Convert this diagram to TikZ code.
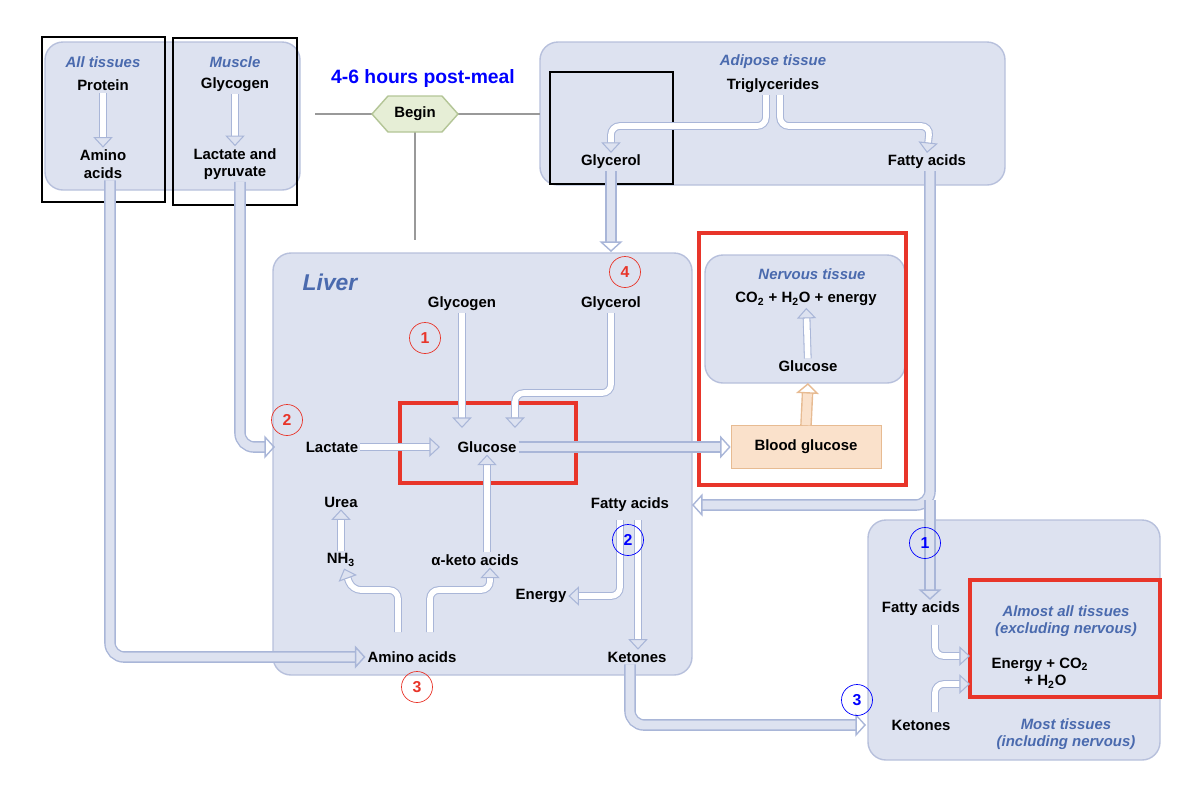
\documentclass[tikz,border=0pt]{standalone}
\usepackage{fontspec}
\setmainfont{Liberation Sans}
\usetikzlibrary{arrows.meta,positioning}
\definecolor{boxfill}{HTML}{DDE2F0}
\definecolor{boxline}{HTML}{B7C0DC}
\definecolor{flowc}{HTML}{A9B6D8}
\definecolor{tissue}{HTML}{4A6AAE}
\definecolor{hexfill}{HTML}{E6EED6}
\definecolor{hexline}{HTML}{B3C596}
\definecolor{bgfill}{HTML}{FAE1CB}
\definecolor{bgline}{HTML}{E7BB92}
\definecolor{mark}{HTML}{E8352A}
\tikzset{
  panel/.style={draw=boxline, fill=boxfill, rounded corners=3.6mm, line width=0.8pt},
  lbl/.style={font=\fontsize{8.5}{10}\selectfont\bfseries, align=center, inner sep=1pt},
  tis/.style={font=\fontsize{8.5}{10}\selectfont\bfseries\itshape, text=tissue, align=center, inner sep=1pt},
  fat/.style={draw=flowc, line width=0.6pt, double=white, double distance=3.2pt, rounded corners=5pt,
    -{Triangle[open,length=6pt,width=11pt,line width=0.6pt]}},
  wide/.style={draw=flowc, line width=0.8pt, double=boxfill, double distance=5pt, rounded corners=8pt,
    -{Triangle[open,length=6pt,width=13pt,line width=0.8pt]}},
  redno/.style={circle, draw=mark, text=mark, minimum size=0.62cm, inner sep=0pt, font=\fontsize{9}{10}\selectfont\bfseries},
  blueno/.style={circle, draw=blue, text=blue, minimum size=0.62cm, inner sep=0pt, font=\fontsize{9}{10}\selectfont\bfseries,
    append after command={(\tikzlastnode.south west) rectangle (\tikzlastnode.north east)}},
  hilite/.style={draw=mark, line width=2pt},
  frame/.style={draw=black, line width=0.7pt},
  rule/.style={draw=gray!80, line width=0.8pt}
}
\begin{document}
\begin{tikzpicture}[x=0.02cm, y=-0.02cm]
  \useasboundingbox (0,0) rectangle (1198,796);

  % panels
  \draw[panel] (45,42) rectangle (300,190);
  \draw[panel] (540,42) rectangle (1005,185);
  \draw[panel] (273,253) rectangle (692,675);
  \draw[panel] (705,255) rectangle (905,383);
  \draw[panel] (868,520) rectangle (1160,760);
  \draw[frame] (42,37) rectangle (165,202);
  \draw[frame] (173,38) rectangle (297,205);
  \draw[frame] (550,72) rectangle (673,184);

  % begin marker
  \draw[rule] (315,114) -- (540,114);
  \draw[rule] (415,114) -- (415,240);
  \draw[draw=hexline, fill=hexfill, line width=0.8pt]
    (372,114) -- (388,96) -- (442,96) -- (458,114) -- (442,132) -- (388,132) -- cycle;
  \node[lbl] (begin) at (415,114) {Begin};
  \node[font=\fontsize{11}{12}\selectfont\bfseries, text=blue] (time) at (423,78) {4-6 hours post-meal};

  % tissues
  \node[tis] (alltis) at (103,62) {All tissues};
  \node[lbl] (protein) at (103,85) {Protein};
  \node[lbl] (aminoA) at (103,164) {Amino\\acids};
  \node[tis] (muscle) at (235,62) {Muscle};
  \node[lbl] (glycoM) at (235,85) {Glycogen};
  \node[lbl] (lacpyr) at (235,164) {Lactate and\\pyruvate};
  \node[tis] (adipose) at (773,62) {Adipose tissue};
  \node[lbl] (trig) at (773,86) {Triglycerides};
  \node[lbl] (glyA) at (611,162) {Glycerol};
  \node[lbl] (fatA) at (927,162) {Fatty acids};

  % liver
  \node[font=\fontsize{13}{14}\selectfont\bfseries\itshape, text=tissue] (liver) at (330,282) {Liver};
  \node[lbl] (glyco) at (462,304) {Glycogen};
  \node[lbl] (glyL) at (611,304) {Glycerol};
  \node[lbl] (lac) at (332,447) {Lactate};
  \node[lbl] (gluc) at (487,447) {Glucose};
  \node[lbl] (urea) at (341,502) {Urea};
  \node[lbl] (nh3) at (341,560) {NH\textsubscript{3}};
  \node[lbl] (keto) at (475,560) {α-keto acids};
  \node[lbl] (amino) at (412,657) {Amino acids};
  \node[lbl] (fatL) at (630,505) {Fatty acids};
  \node[lbl] (energy) at (541,596) {Energy};
  \node[lbl] (ketL) at (637,657) {Ketones};
  \draw[hilite] (400,403) rectangle (576,483);

  % nervous tissue
  \node[tis] (nerv) at (812,274) {Nervous tissue};
  \node[lbl] (co2n) at (806,299) {CO\textsubscript{2} + H\textsubscript{2}O + energy};
  \node[lbl] (glucN) at (808,366) {Glucose};
  \node[lbl, draw=bgline, fill=bgfill, minimum width=3cm, minimum height=0.86cm] (blood) at (806,447) {Blood glucose};
  \draw[hilite] (699,233) rectangle (906,485);

  % other tissues
  \node[lbl] (fatT) at (921,609) {Fatty acids};
  \node[lbl] (ketT) at (921,725) {Ketones};
  \node[tis] (almost) at (1066,621) {Almost all tissues\\(excluding nervous)};
  \node[lbl, align=left] (co2t) at (1040,673) {Energy + CO\textsubscript{2}\\\hspace{2.2em}+ H\textsubscript{2}O};
  \node[tis] (most) at (1066,734) {Most tissues\\(including nervous)};
  \draw[hilite] (970,580) rectangle (1160,697);

  % flows inside panels
  \draw[fat] (protein) -- (aminoA);
  \draw[fat] (glycoM) -- (lacpyr);
  \draw[fat] ([xshift=-4pt]trig.south) |- (611,126) -- (glyA.north);
  \draw[fat] ([xshift=4pt]trig.south) |- (930,126) -- (fatA.north);
  \draw[fat] (glyco) -- (462,428);
  \draw[fat] (glyL.south) |- (515,393) -- (515,428);
  \draw[fat] (lac) -- (440,447);
  \draw[fat] (keto.north -| gluc) -- (gluc);
  \draw[fat] (nh3) -- (urea);
  \draw[fat] (398,632) |- (352,590) -- (nh3);
  \draw[fat] (430,632) |- (490,590) -- (keto.south -| 490,0);
  \draw[fat] (620,520) |- (energy.east);
  \draw[fat] (638,520) -- (ketL.north -| 638,0);
  \draw[fat] (glucN) -- (co2n);
  \draw[fat] (935,625) |- (970,656);
  \draw[fat] (935,712) |- (970,684);

  % flows between panels
  \draw[wide] (gluc.east) -- (blood.west);
  \draw[draw=bgline, line width=0.8pt, double=bgfill, double distance=5pt,
    -{Triangle[open,length=6pt,width=13pt,line width=0.8pt]}] (blood.north) -- (808,383);
  \draw[wide] (aminoA.south -| 110,0) |- (amino.west);
  \draw[wide] (lacpyr.south -| 240,0) |- (lac.west -| 275,0);
  \draw[wide] (glyA.south) -- (611,252);
  \draw[wide] (fatA.south -| 930,0) |- (fatL.east -| 692,0);
  \draw[wide] (930,500) -- (fatT.north -| 930,0);
  \draw[wide] (ketL.south -| 630,0) |- (ketT.west -| 866,0);

  % step markers
  \node[redno] (r1) at (425,338) {1};
  \node[redno] (r2) at (287,420) {2};
  \node[redno] (r3) at (417,687) {3};
  \node[redno] (r4) at (625,272) {4};
  \node[blueno] (b1) at (925,543) {1};
  \node[blueno] (b2) at (628,540) {2};
  \node[blueno] (b3) at (857,700) {3};
\end{tikzpicture}
\end{document}
